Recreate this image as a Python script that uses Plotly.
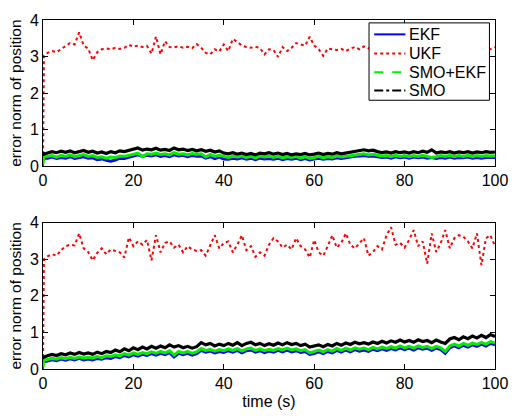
import plotly.graph_objects as go
from plotly.subplots import make_subplots

# time samples (s)
time = [0, 0.2] + list(range(1, 101))

# ---- top panel ----
top_ekf = [0.20, 0.22,
    0.22,0.25,0.21,0.24,0.22,0.26,0.21,0.24,0.26,0.22,
    0.23,0.18,0.20,0.16,0.14,0.17,0.22,0.21,0.25,0.29,
    0.31,0.27,0.30,0.28,0.31,0.27,0.29,0.26,0.31,0.28,
    0.30,0.26,0.29,0.27,0.28,0.22,0.26,0.21,0.25,0.20,
    0.19,0.22,0.20,0.23,0.19,0.22,0.18,0.22,0.20,0.21,
    0.19,0.22,0.18,0.21,0.19,0.22,0.18,0.21,0.17,0.20,
    0.22,0.19,0.21,0.20,0.23,0.21,0.22,0.25,0.27,0.29,
    0.29,0.27,0.28,0.26,0.24,0.25,0.22,0.26,0.23,0.25,
    0.22,0.25,0.23,0.25,0.22,0.24,0.21,0.24,0.22,0.25,
    0.22,0.24,0.23,0.25,0.22,0.24,0.22,0.24,0.23,0.24]
top_ukf = [0.0, 3.02,
    3.10,3.15,3.12,3.20,3.30,3.37,3.33,3.66,3.30,3.22,
    2.90,3.12,3.20,3.22,3.20,3.24,3.21,3.24,3.32,3.27,
    3.30,3.26,3.29,3.08,3.55,3.06,3.42,3.26,3.25,3.28,
    3.24,3.27,3.23,3.34,3.24,3.10,3.06,3.20,3.14,3.33,
    3.15,3.48,3.40,3.30,3.26,3.24,3.27,3.23,3.06,3.20,
    3.18,2.99,3.26,3.15,3.24,3.37,3.33,3.30,3.54,3.30,
    3.20,3.02,3.22,3.20,3.18,3.21,3.15,3.22,3.26,3.20,
    3.28,3.22,3.25,3.20,3.24,3.22,3.26,3.21,3.24,3.20,
    3.23,3.26,3.21,3.24,3.22,3.25,3.20,3.23,3.26,3.22,
    3.24,3.21,3.25,3.22,3.24,3.20,3.23,3.25,3.20,3.26]
top_smo_ekf = [0.05, 0.28,
    0.27,0.29,0.25,0.30,0.27,0.31,0.26,0.29,0.32,0.27,
    0.29,0.24,0.26,0.22,0.25,0.24,0.28,0.27,0.31,0.33,
    0.36,0.26,0.34,0.33,0.36,0.32,0.34,0.31,0.37,0.33,
    0.34,0.31,0.35,0.33,0.34,0.25,0.32,0.27,0.30,0.26,
    0.24,0.27,0.25,0.28,0.24,0.27,0.23,0.28,0.25,0.27,
    0.24,0.27,0.23,0.26,0.24,0.27,0.22,0.26,0.21,0.24,
    0.27,0.23,0.26,0.24,0.28,0.25,0.27,0.30,0.31,0.33,
    0.34,0.31,0.33,0.30,0.28,0.29,0.26,0.30,0.27,0.29,
    0.26,0.29,0.27,0.30,0.27,0.24,0.26,0.29,0.27,0.30,
    0.26,0.29,0.27,0.30,0.26,0.29,0.27,0.29,0.28,0.29]
top_smo = [0.38, 0.33,
    0.36,0.40,0.37,0.41,0.38,0.42,0.37,0.40,0.43,0.38,
    0.41,0.36,0.39,0.35,0.40,0.37,0.42,0.40,0.44,0.46,
    0.50,0.44,0.47,0.45,0.49,0.44,0.46,0.43,0.50,0.45,
    0.47,0.43,0.46,0.42,0.45,0.41,0.44,0.39,0.42,0.36,
    0.34,0.37,0.33,0.36,0.32,0.35,0.31,0.36,0.34,0.37,
    0.33,0.36,0.32,0.35,0.31,0.34,0.32,0.35,0.31,0.33,
    0.36,0.32,0.35,0.33,0.37,0.34,0.36,0.39,0.41,0.44,
    0.45,0.42,0.44,0.40,0.37,0.39,0.36,0.40,0.37,0.39,
    0.36,0.40,0.37,0.41,0.38,0.45,0.36,0.39,0.37,0.40,
    0.36,0.39,0.37,0.40,0.36,0.39,0.37,0.40,0.38,0.39]

# ---- bottom panel ----
bot_ekf = [0.20, 0.20,
    0.22,0.25,0.23,0.27,0.24,0.28,0.25,0.29,0.25,0.27,
    0.25,0.29,0.27,0.31,0.29,0.34,0.31,0.37,0.33,0.39,
    0.35,0.40,0.37,0.42,0.38,0.43,0.39,0.45,0.33,0.43,
    0.39,0.43,0.38,0.42,0.51,0.46,0.49,0.44,0.48,0.45,
    0.50,0.46,0.51,0.44,0.50,0.52,0.46,0.50,0.45,0.49,
    0.46,0.51,0.47,0.52,0.47,0.50,0.45,0.48,0.40,0.42,
    0.47,0.42,0.48,0.44,0.51,0.46,0.52,0.47,0.53,0.49,
    0.52,0.48,0.54,0.50,0.55,0.51,0.56,0.52,0.58,0.53,
    0.57,0.52,0.58,0.54,0.57,0.51,0.57,0.53,0.43,0.58,
    0.63,0.58,0.65,0.60,0.66,0.62,0.68,0.63,0.70,0.66]
bot_ukf = [0.0, 3.00,
    3.08,3.14,3.10,3.25,3.36,3.40,3.38,3.71,3.30,3.20,
    2.97,3.18,3.30,3.14,3.27,3.23,3.19,3.05,3.60,3.36,
    3.49,3.40,3.53,2.97,3.66,3.19,3.45,3.49,3.32,3.40,
    3.19,3.36,3.27,3.23,3.25,3.10,3.40,3.66,3.30,3.45,
    3.49,3.19,3.40,3.66,3.25,3.36,3.07,3.19,3.10,3.40,
    3.58,3.49,3.32,3.40,3.27,3.58,3.36,3.27,3.05,3.53,
    3.19,3.10,3.36,3.66,3.32,3.45,3.71,3.40,3.30,3.45,
    3.58,3.10,3.20,3.36,3.27,3.66,3.88,3.40,3.45,3.32,
    3.53,3.80,3.36,3.49,2.88,3.71,3.20,3.45,3.80,3.30,
    3.58,3.66,3.62,3.49,3.30,3.71,2.84,3.58,3.66,3.36]
bot_smo_ekf = [0.05, 0.24,
    0.26,0.29,0.27,0.31,0.28,0.32,0.29,0.33,0.30,0.32,
    0.30,0.34,0.31,0.36,0.34,0.39,0.36,0.42,0.38,0.44,
    0.40,0.45,0.42,0.47,0.43,0.48,0.44,0.50,0.38,0.48,
    0.44,0.48,0.43,0.47,0.56,0.51,0.54,0.49,0.53,0.50,
    0.55,0.51,0.56,0.49,0.55,0.57,0.51,0.55,0.50,0.54,
    0.51,0.56,0.52,0.57,0.52,0.55,0.50,0.53,0.44,0.47,
    0.52,0.47,0.53,0.49,0.56,0.51,0.57,0.52,0.58,0.54,
    0.57,0.53,0.59,0.55,0.60,0.56,0.61,0.57,0.63,0.58,
    0.62,0.57,0.63,0.59,0.62,0.56,0.62,0.58,0.48,0.63,
    0.68,0.63,0.70,0.65,0.71,0.67,0.73,0.68,0.75,0.71]
bot_smo = [0.35, 0.32,
    0.36,0.40,0.37,0.42,0.39,0.44,0.40,0.45,0.41,0.44,
    0.40,0.46,0.42,0.48,0.45,0.52,0.47,0.55,0.50,0.58,
    0.53,0.60,0.55,0.62,0.57,0.63,0.58,0.66,0.60,0.64,
    0.58,0.62,0.57,0.61,0.72,0.66,0.70,0.63,0.68,0.64,
    0.70,0.65,0.72,0.64,0.70,0.73,0.66,0.70,0.64,0.69,
    0.65,0.71,0.66,0.72,0.67,0.70,0.64,0.68,0.60,0.62,
    0.66,0.61,0.67,0.63,0.70,0.65,0.71,0.67,0.73,0.69,
    0.72,0.68,0.74,0.70,0.76,0.71,0.77,0.73,0.79,0.74,
    0.78,0.73,0.80,0.75,0.78,0.72,0.79,0.74,0.70,0.82,
    0.86,0.80,0.88,0.83,0.90,0.85,0.92,0.86,0.94,0.89]

names = ["EKF", "UKF", "SMO+EKF", "SMO"]
colors = ["#0000ff", "#ff0000", "#00ee00", "#000000"]
dashes = ["solid", "dot", "dash", "dashdot"]
# dense noisy bands render as solid strokes in the reference
data_dash = ["solid", "dot", "solid", "solid"]
data_width = [3.0, 2.0, 3.0, 3.2]

fig = make_subplots(rows=2, cols=1, vertical_spacing=0.162)

panels = [(top_ekf, top_ukf, top_smo_ekf, top_smo), (bot_ekf, bot_ukf, bot_smo_ekf, bot_smo)]
for r, series in enumerate(panels, start=1):
    for name, col, dsh, wd, ys in zip(names, colors, data_dash, data_width, series):
        fig.add_trace(go.Scatter(x=time, y=ys, mode="lines", name=name,
                                 line=dict(color=col, dash=dsh, width=wd),
                                 showlegend=False), row=r, col=1)

axis_style = dict(showline=True, linecolor="black", linewidth=1, mirror="ticks",
                  ticks="inside", ticklen=5, tickcolor="black", showgrid=False,
                  zeroline=False, tickfont=dict(size=16, color="black"),
                  ticklabeloverflow="allow")
for r in (1, 2):
    fig.update_xaxes(range=[0, 100], tickvals=[0, 20, 40, 60, 80, 100], row=r, col=1, **axis_style)
    fig.update_yaxes(range=[0, 4], tickvals=[0, 1, 2, 3, 4], row=r, col=1,
                     title=dict(text="error norm of position", font=dict(size=15.5, color="black"), standoff=4),
                     **axis_style)
fig.update_xaxes(title=dict(text="time (s)", font=dict(size=16, color="black"), standoff=4), row=2, col=1)

# legend box (pixel layout -> paper coords)
L, T, W, H = 43, 13, 464, 364
def px(x):
    return (x - L) / W
def py(y):
    return (T + H - y) / H

shapes = [dict(type="rect", xref="paper", yref="paper", x0=px(377.7), x1=px(501.3),
               y0=py(96.7), y1=py(16), line=dict(color="black", width=1), fillcolor="white",
               layer="above")]
annotations = []
row_y = [28, 48, 67.5, 86.5]
for name, col, dsh, yy in zip(names, colors, dashes, row_y):
    shapes.append(dict(type="line", xref="paper", yref="paper", x0=px(383), x1=px(415),
                       y0=py(yy), y1=py(yy), line=dict(color=col, dash=dsh, width=2), layer="above"))
    annotations.append(dict(text=name, xref="paper", yref="paper", x=px(416.5), y=py(yy),
                            xanchor="left", yanchor="middle", showarrow=False,
                            font=dict(size=16, color="black")))

fig.update_layout(
    width=520, height=419,
    margin=dict(l=L, r=520 - L - W, t=T, b=419 - T - H),
    paper_bgcolor="white", plot_bgcolor="white",
    font=dict(family="Liberation Sans, Arial, sans-serif", color="black"),
    showlegend=False,
    shapes=shapes, annotations=annotations,
)

fig.write_html("out.html")
